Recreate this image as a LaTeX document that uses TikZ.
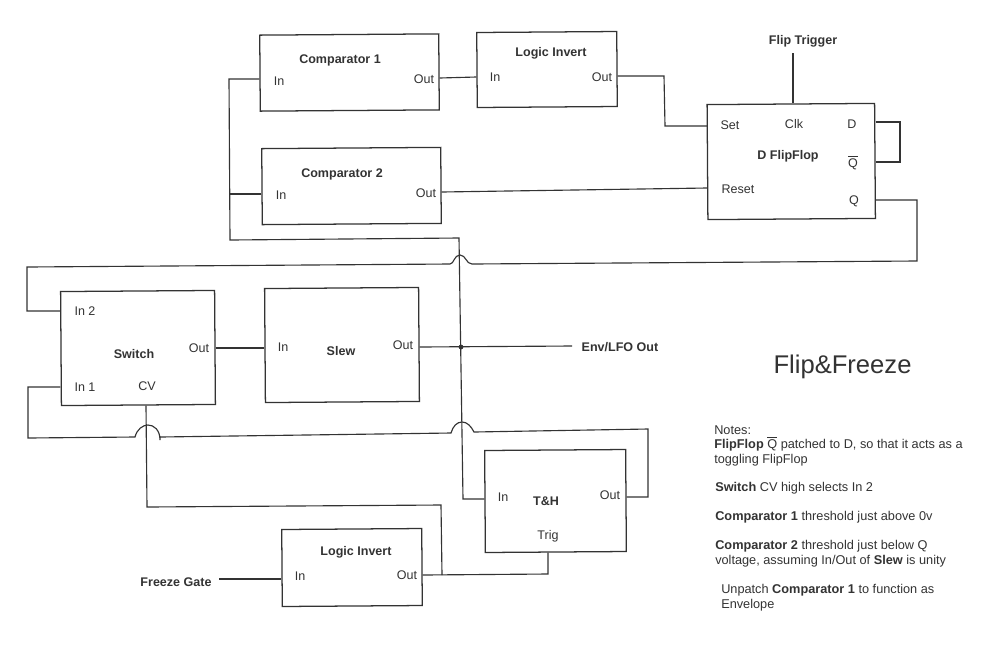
\documentclass[tikz,border=0pt]{standalone}
\usepackage{fontspec}
\setmainfont{Liberation Sans}
\definecolor{ink}{HTML}{333333}
\tikzset{
  x=0.75pt,y=-0.75pt,
  boxst/.style={draw=ink,line width=0.95pt,inner sep=0pt,fill=white,rotate=0.4},
  wire/.style={draw=ink,line width=0.85pt,line join=miter},
  lbl/.style={anchor=base,inner sep=0pt,text=ink,font=\fontsize{9.4}{11}\selectfont},
  ttl/.style={lbl,font=\fontsize{9.4}{11}\selectfont\bfseries},
  note/.style={anchor=base west,inner sep=0pt,text=ink,font=\fontsize{9.55}{11}\selectfont}
}
\newcommand\mybox[5]{\node[boxst,minimum width={(#4-#2)*0.75pt},minimum height={(#5-#3)*0.75pt}] (#1) at ({(#2+#4)/2},{(#3+#5)/2}) {};}
\begin{document}
\begin{tikzpicture}
\useasboundingbox (0,0) rectangle (992,669);
\fill[white] (0,0) rectangle (992,669);
% boxes
\mybox{cmpA}{260}{34.5}{439}{110.5}
\mybox{invA}{477}{32}{617}{107}
\mybox{ff}{707.5}{104}{875}{219}
\mybox{cmpB}{262}{148}{441}{224}
\mybox{sw}{61}{291}{215}{405}
\mybox{slew}{265}{288}{419}{402}
\mybox{th}{485}{450}{626}{552}
\mybox{invB}{282}{529}{422}{606}
% labels
\node[ttl] (tCmpA) at (340,63) {Comparator 1};
\node[lbl] (lCmpAi) at (279,85) {In};
\node[lbl] (lCmpAo) at (424,83) {Out};
\node[ttl] (tInvA) at (551,56) {Logic Invert};
\node[lbl] (lInvAi) at (495,81) {In};
\node[lbl] (lInvAo) at (602,81) {Out};
\node[ttl] (tCmpB) at (342,177) {Comparator 2};
\node[lbl] (lCmpBi) at (281,199) {In};
\node[lbl] (lCmpBo) at (426,197) {Out};
\node[lbl] (lSet) at (730,129) {Set};
\node[lbl] (lClk) at (794,128) {Clk};
\node[lbl] (lD) at (852,128) {D};
\node[ttl] (tFF) at (788,159) {D FlipFlop};
\node[lbl] (lQb) at (853,167) {$\overline{\hbox{Q}}$};
\node[lbl] (lRes) at (738,193) {Reset};
\node[lbl] (lQ) at (854,204) {Q};
\node[ttl] (tFlip) at (803,44) {Flip Trigger};
\node[lbl] (lSwB) at (85,315) {In 2};
\node[ttl] (tSw) at (134,358) {Switch};
\node[lbl] (lSwO) at (199,352) {Out};
\node[lbl] (lSwA) at (85,391) {In 1};
\node[lbl] (lCV) at (147,390) {CV};
\node[lbl] (lSlI) at (283,351) {In};
\node[ttl] (tSl) at (341,355) {Slew};
\node[lbl] (lSlO) at (403,349) {Out};
\node[ttl] (tEnv) at (620,351) {Env/LFO Out};
\node[lbl] (lThI) at (503,501) {In};
\node[ttl] (tTh) at (546,505) {T\&H};
\node[lbl] (lThO) at (610,499) {Out};
\node[lbl] (lThT) at (548,539) {Trig};
\node[ttl] (tInvB) at (356,555) {Logic Invert};
\node[lbl] (lInvBi) at (300,580) {In};
\node[lbl] (lInvBo) at (407,579) {Out};
\node[ttl] (tFrz) at (176,586) {Freeze Gate};
\node[anchor=base,inner sep=0pt,text=ink,font=\fontsize{19.2}{22}\selectfont] (tMain) at (842.5,373) {Flip\&Freeze};
% notes
\node[note] (n1) at (714,434) {Notes:};
\node[note] (n2) at (714,448) {\textbf{FlipFlop} $\overline{\hbox{Q}}$ patched to D, so that it acts as a};
\node[note] (n3) at (714,463) {toggling FlipFlop};
\node[note] (n4) at (715,491) {\textbf{Switch} CV high selects In 2};
\node[note] (n5) at (715,520) {\textbf{Comparator 1} threshold just above 0v};
\node[note] (n6) at (715,549) {\textbf{Comparator 2} threshold just below Q};
\node[note] (n7) at (715,564) {voltage, assuming In/Out of \textbf{Slew} is unity};
\node[note] (n8) at (721,593) {Unpatch \textbf{Comparator 1} to function as};
\node[note] (n9) at (721,608) {Envelope};
% free ends and bends
\coordinate (flipEnd) at (793,53);
\coordinate (envEnd) at (572,346);
\coordinate (frzEnd) at (219,579);
\coordinate (bus) at (461,347);
% connectors
\draw[wire] (cmpA.east |- 0,78) -- (invA.west |- 0,77);
\draw[wire] (invA.east |- 0,76) -- (664,76) -- (665,126) -- (ff.west |- 0,126);
\draw[wire] (cmpB.east |- 0,192) -- (ff.west |- 0,188);
\draw[wire] (flipEnd) -- (flipEnd |- ff.north);
\draw[wire] (ff.east |- 0,122) -- (900,122) -- (900,162) -- (ff.east |- 0,162);
% Q back to Switch In 2, hopping over the vertical bus
\draw[wire] (ff.east |- 0,200) -- (917,200) -- (917,261) -- (472,264)
  .. controls (466,264) and (466,255) .. (460,255)
  .. controls (454,255) and (454,264) .. (450,264)
  -- (27,267) -- (27,311) -- (sw.west |- 0,311);
% bus: comparators, slew out, T&H in
\draw[wire] (cmpA.west |- 0,79) -- (229,79) -- (230,240) -- (459,238) -- (463,499) -- (th.west |- 0,499);
\draw[wire] (cmpB.west |- 0,194) -- (230,194);
\draw[wire] (slew.east |- 0,347) -- (envEnd);
\fill[ink] (bus) circle (2.4);
\draw[wire] (sw.east |- 0,348) -- (slew.west |- 0,348);
% T&H out to Switch In 1, two hops
\draw[wire] (sw.west |- 0,387) -- (28,387) -- (28,438) -- (135,437)
  .. controls (137,429) and (143,425) .. (148,425)
  .. controls (154,425) and (160,430) .. (160,440)
  -- (160,437) -- (451,433)
  .. controls (453,426) and (457,422) .. (462,422)
  .. controls (467,422) and (471,426) .. (474,432)
  -- (648,429) -- (648,497) -- (th.east |- 0,497);
% inverted gate
\draw[wire] (sw.south -| 146,0) -- (147,507) -- (441,505) -- (442,575);
\draw[wire] (invB.east |- 0,575) -- (548,574) -- (th.south -| 548,0);
\draw[wire] (frzEnd) -- (invB.west |- 0,579);
\end{tikzpicture}
\end{document}
